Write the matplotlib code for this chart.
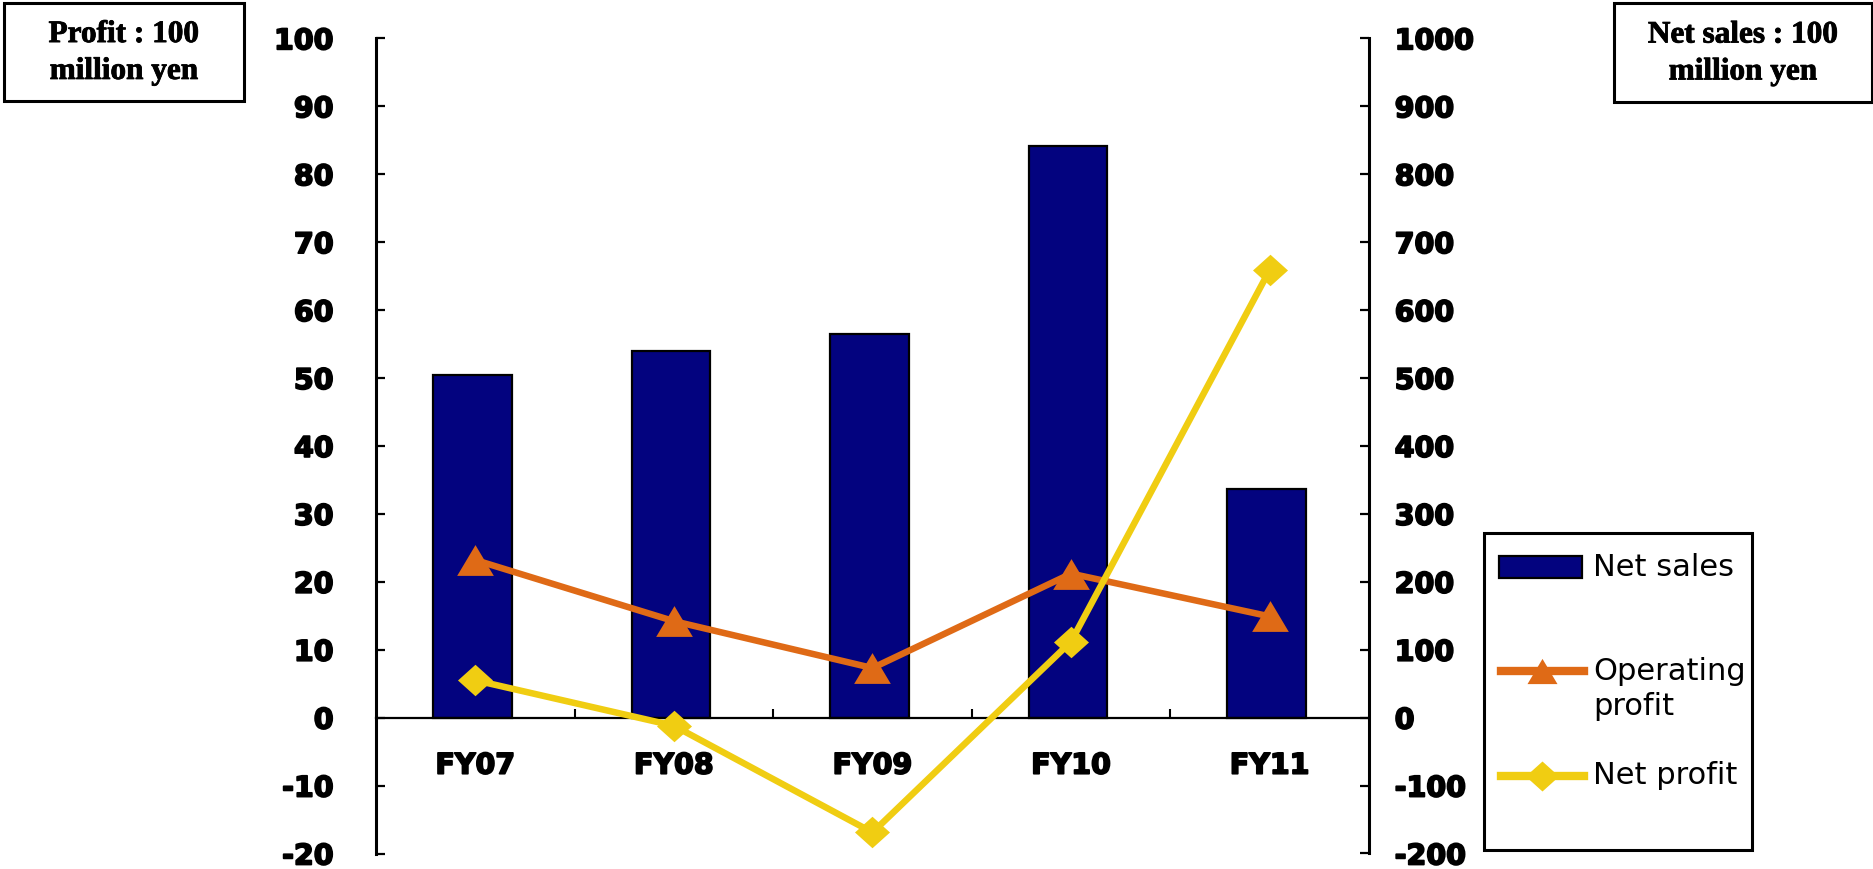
import matplotlib
matplotlib.use("Agg")
import matplotlib.pyplot as plt
import matplotlib.patheffects as pe
from matplotlib.patches import Rectangle
from matplotlib.lines import Line2D

# ---- data (100 million yen) ----
years = ["FY07", "FY08", "FY09", "FY10", "FY11"]
net_sales = [505, 540, 565, 841, 337]
operating_profit = [23.2, 14.2, 7.3, 21.2, 14.9]
net_profit = [5.5, -1.2, -16.9, 11.2, 65.9]
profit_ticks = list(range(-20, 101, 10))
sales_ticks = list(range(-200, 1001, 100))

NAVY = "#03037F"
ORANGE = "#DF6A16"
YELLOW = "#F0CD12"

W, H, DPI = 1874, 869, 100
fig = plt.figure(figsize=(W / DPI, H / DPI), dpi=DPI)


def fx(x):
    return x / W


def fy(y):
    return 1 - y / H


# plot area in pixel units
L, R, T, B = 376, 1369, 38.3, 853.5
ax_sales = fig.add_axes([fx(L), fy(B), (R - L) / W, (B - T) / H])
ax_profit = ax_sales.twinx()

# custom marker shapes: slightly flattened triangle and diamond
tri = [(0, 0.84), (-1, -0.84), (1, -0.84)]
dia = [(0, 0.9), (1, 0), (0, -0.9), (-1, 0)]

x = list(range(len(years)))

# bars: net sales on the right-hand scale (sit a touch left of centre)
ax_sales.bar([i - 0.015 for i in x], net_sales, width=0.395, color=NAVY,
             edgecolor="black", linewidth=1.6, zorder=1)
ax_sales.set_ylim(-200, 1000)
ax_sales.set_xlim(-0.5, len(years) - 0.5)

# lines: profits on the left-hand scale
ax_profit.plot(x, operating_profit, color=ORANGE, lw=4.7, marker=tri,
               ms=26.4, mec=ORANGE, mew=0, solid_joinstyle="miter", zorder=3)
ax_profit.plot(x, net_profit, color=YELLOW, lw=4.7, marker=dia,
               ms=25.2, mec=YELLOW, mew=0, solid_joinstyle="miter", zorder=4)
ax_profit.set_ylim(-20, 100)

# y axes: profit on the left, sales on the right
ax_sales.yaxis.tick_right()
ax_profit.yaxis.tick_left()
ax_profit.set_yticks(profit_ticks)
ax_sales.set_yticks(sales_ticks)

heavy = [pe.withStroke(linewidth=1.3, foreground="black")]
tick_font = dict(family="DejaVu Sans", weight="bold", size=20.5)
ax_profit.set_yticklabels([str(v) for v in profit_ticks], fontdict=tick_font)
ax_sales.set_yticklabels([str(v) for v in sales_ticks], fontdict=tick_font)
ax_profit.tick_params(axis="y", direction="in", length=6.5, width=1.6,
                      pad=30.5, colors="black")
ax_sales.tick_params(axis="y", direction="in", length=6.5, width=1.6,
                     pad=18.5, colors="black")

# spines
for s in ["top", "bottom", "right"]:
    ax_profit.spines[s].set_visible(False)
ax_profit.spines["left"].set_linewidth(2.2)
for s in ["top", "left"]:
    ax_sales.spines[s].set_visible(False)
ax_sales.spines["right"].set_linewidth(2.2)
ax_sales.spines["bottom"].set_position(("data", 0))
ax_sales.spines["bottom"].set_linewidth(1.6)

# category axis along the zero line
ax_sales.set_xticks(x)
ax_sales.set_xticklabels(years, fontdict=tick_font)
ax_sales.set_xticks([i + 0.5 for i in x[:-1]], minor=True)
ax_sales.tick_params(axis="x", which="major", length=0, pad=24.5)
ax_sales.tick_params(axis="x", which="minor", direction="in", length=6.2,
                     width=1.5)

for lbl in (ax_profit.get_yticklabels() + ax_sales.get_yticklabels()
            + ax_sales.get_xticklabels()):
    lbl.set_path_effects(heavy)

# unit boxes
title_font = dict(family="Liberation Serif", weight="bold", size=22.5)
for (x0, x1, y0, y1, txt) in [
    (4, 244, 3, 101, "Profit : 100\nmillion yen"),
    (1614, 1872, 3, 102, "Net sales : 100\nmillion yen"),
]:
    fig.add_artist(Rectangle((fx(x0), fy(y1)), (x1 - x0) / W, (y1 - y0) / H,
                             fill=False, lw=2.2, ec="black",
                             transform=fig.transFigure))
    t = fig.text(fx((x0 + x1) / 2), fy((y0 + y1) / 2 + 1), txt, ha="center",
                 va="center", ma="center", linespacing=1.36, **title_font)
    t.set_path_effects([pe.withStroke(linewidth=0.6, foreground="black")])

# legend
leg_font = dict(family="DejaVu Sans", size=22)
fig.add_artist(Rectangle((fx(1484), fy(850)), (1752 - 1484) / W,
                         (850 - 533) / H, fill=False, lw=2.2, ec="black",
                         transform=fig.transFigure))
fig.add_artist(Rectangle((fx(1499.5), fy(578)), (1582 - 1499.5) / W,
                         (578 - 556) / H, fc=NAVY, ec="black", lw=1.6,
                         transform=fig.transFigure))
fig.text(fx(1593), fy(567), "Net sales", ha="left", va="center", **leg_font)

fig.add_artist(Line2D([fx(1500.7), fx(1584.3)], [fy(671), fy(671)],
                      color=ORANGE, lw=6, transform=fig.transFigure))
fig.add_artist(Line2D([fx(1542.5)], [fy(671)], color=ORANGE, marker=tri,
                      ms=21.6, mew=0, ls="none", transform=fig.transFigure))
fig.text(fx(1593), fy(689), "Operating\nprofit", ha="left", va="center",
         linespacing=1.3, **leg_font)

fig.add_artist(Line2D([fx(1500.7), fx(1584.3)], [fy(776), fy(776)],
                      color=YELLOW, lw=6, transform=fig.transFigure))
fig.add_artist(Line2D([fx(1542.5)], [fy(776)], color=YELLOW, marker=dia,
                      ms=24, mew=0, ls="none", transform=fig.transFigure))
fig.text(fx(1593), fy(776), "Net profit", ha="left", va="center", **leg_font)

fig.savefig("out.png", dpi=DPI)
